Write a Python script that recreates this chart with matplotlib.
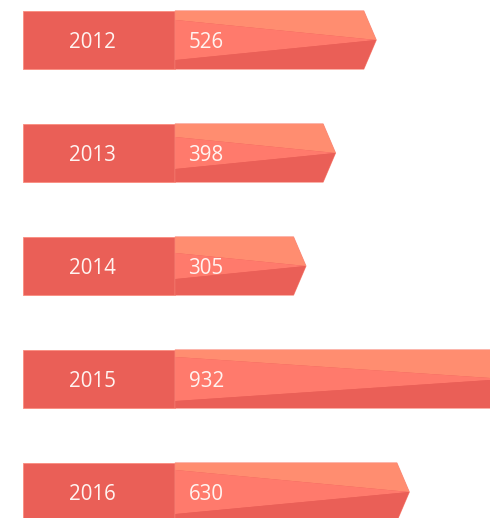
import numpy as np
import matplotlib.pyplot as plt
from matplotlib.patches import Polygon, Rectangle

# data
years = ['2012', '2013', '2014', '2015', '2016']
values = [526, 398, 305, 932, 630]

# colours
dark = '#EA5F57'
mid = '#FF7A6C'
light = '#FF8D70'
edge = '#FA8C7E'
txt = '#FFF4F1'

# layout (data units on the value axis)
label_left = -584
bar_start = -106
head = 39          # depth of the arrow point
half = 0.257       # half height of a row
slope = 2.81e-4    # slope of the facet dividers
cap = 0.195

fig = plt.figure(figsize=(4.9, 5.18), dpi=100)
ax = fig.add_axes([0, 0, 1, 1])
ax.set_xlim(-657, 884)
ax.set_ylim(4.23, -0.354)
ax.axis('off')

for i, (yr, v) in enumerate(zip(years, values)):
    top, bot = i - half, i + half
    # year block
    ax.add_patch(Rectangle((label_left, top), bar_start - label_left, 2 * half,
                           facecolor=dark, edgecolor=edge, lw=0.6))
    off = min(slope * (v - bar_start), cap)
    neck = v - head
    # outer arrow (edge only)
    ax.add_patch(Polygon([(bar_start, top), (neck, top), (v, i), (neck, bot), (bar_start, bot)],
                         closed=True, facecolor=dark, edgecolor=edge, lw=0.8))
    # facets
    ax.add_patch(Polygon([(bar_start, top), (neck, top), (v, i), (bar_start, i - off)],
                         closed=True, facecolor=light, lw=0))
    ax.add_patch(Polygon([(bar_start, i - off), (v, i), (bar_start, i + off)],
                         closed=True, facecolor=mid, lw=0))
    ax.add_patch(Polygon([(bar_start, i + off), (v, i), (neck, bot), (bar_start, bot)],
                         closed=True, facecolor=dark, lw=0))

    ax.text(-367, i + 0.025, yr, ha='center', va='center', color=txt,
            fontsize=14.8, family='Open Sans')
    ax.text(-64, i + 0.025, str(v), ha='left', va='center', color=txt,
            fontsize=14.8, family='Open Sans')

fig.savefig('out.png', dpi=100)
